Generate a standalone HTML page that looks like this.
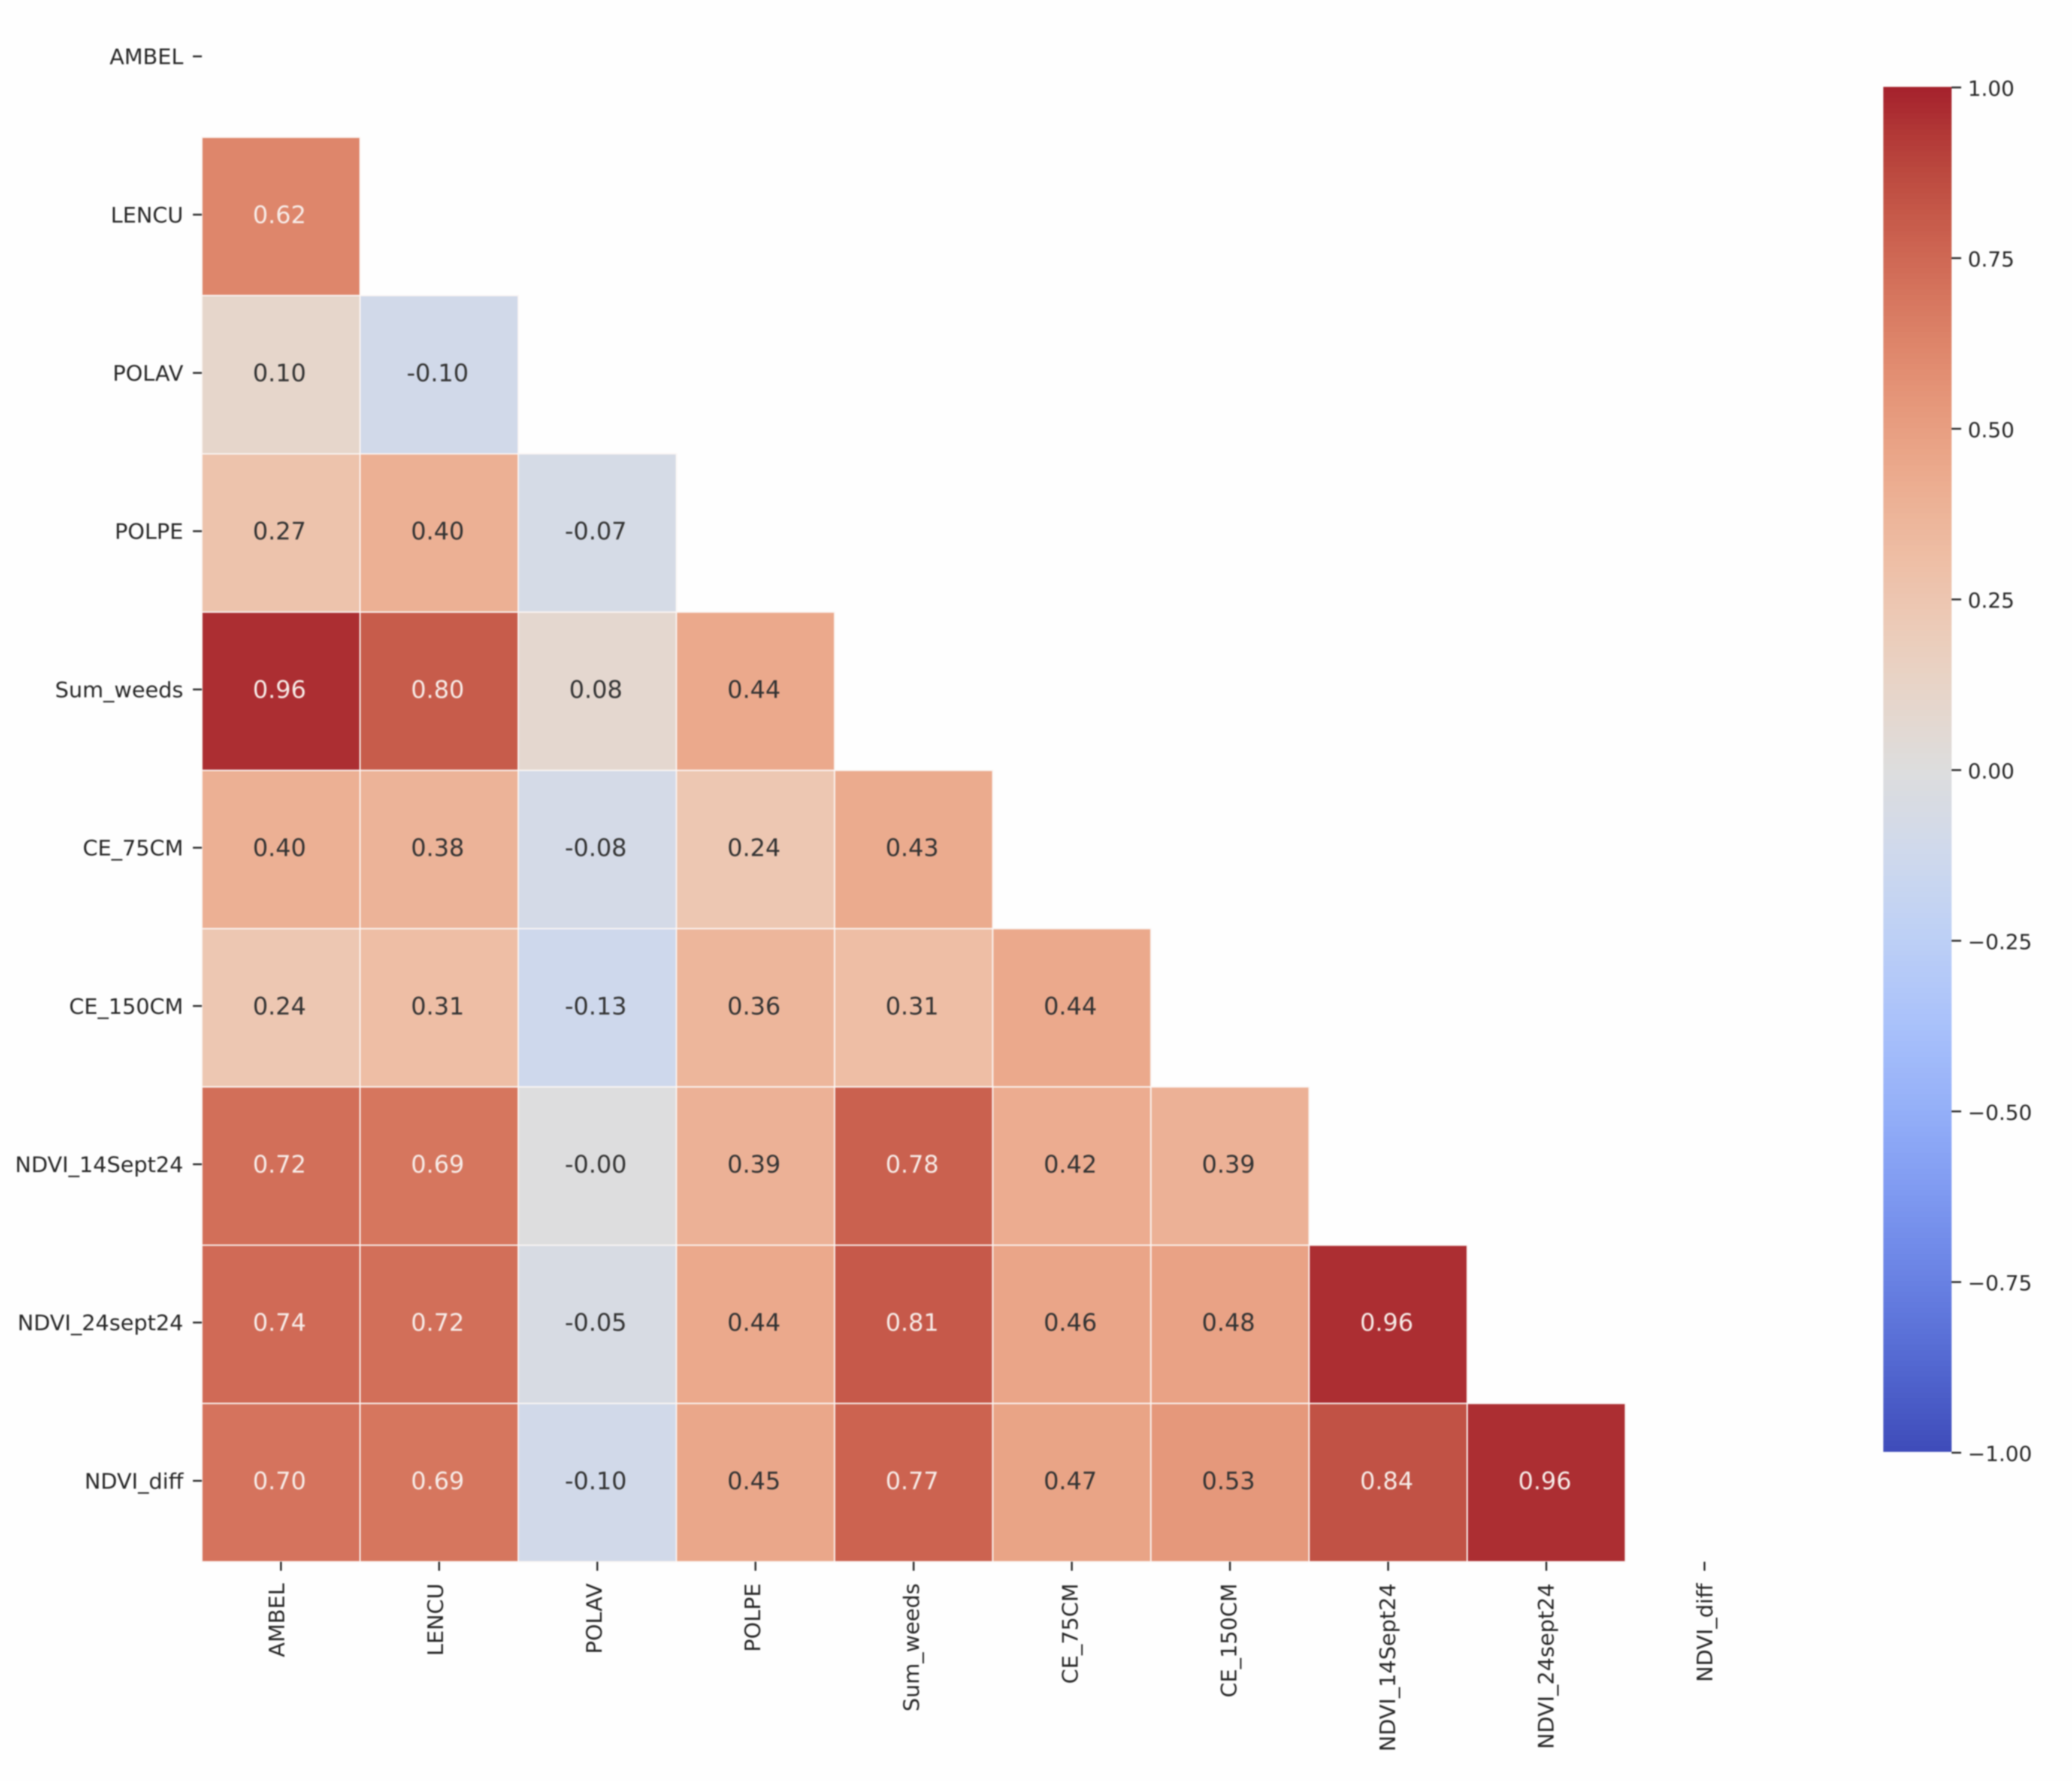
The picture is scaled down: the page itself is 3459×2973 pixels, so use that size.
<!DOCTYPE html>
<html lang="en">
<head>
<meta charset="utf-8">
<title>Correlation heatmap</title>
<style>
html,body{margin:0;padding:0;background:#fefefe;}
#chart{display:block;width:3459px;height:2973px;filter:blur(1.1px);}
text{font-family:"DejaVu Sans","Liberation Sans",sans-serif;}
</style>
</head>
<body>
<svg id="chart" xmlns="http://www.w3.org/2000/svg" width="3459" height="2973" viewBox="0 0 3459 2973">
<rect x="0" y="0" width="3459" height="2973" fill="#fefefe"></rect>
</svg>
<script>
const categories = ["AMBEL","LENCU","POLAV","POLPE","Sum_weeds","CE_75CM","CE_150CM","NDVI_14Sept24","NDVI_24sept24","NDVI_diff"];
const rowAMBEL = [];
const rowLENCU = [0.62];
const rowPOLAV = [0.10,-0.10];
const rowPOLPE = [0.27,0.40,-0.07];
const rowSumWeeds = [0.96,0.80,0.08,0.44];
const rowCE75 = [0.40,0.38,-0.08,0.24,0.43];
const rowCE150 = [0.24,0.31,-0.13,0.36,0.31,0.44];
const rowNDVI14 = [0.72,0.69,-0.004,0.39,0.78,0.42,0.39];
const rowNDVI24 = [0.74,0.72,-0.05,0.44,0.81,0.46,0.48,0.96];
const rowNDVIdiff = [0.70,0.69,-0.10,0.45,0.77,0.47,0.53,0.84,0.96];
const matrixRows = [rowAMBEL,rowLENCU,rowPOLAV,rowPOLPE,rowSumWeeds,rowCE75,rowCE150,rowNDVI14,rowNDVI24,rowNDVIdiff];
const colorbarTicks = [1,0.75,0.5,0.25,0,-0.25,-0.5,-0.75,-1];
const colorbarTickLabels = ["1.00","0.75","0.50","0.25","0.00","\u22120.25","\u22120.50","\u22120.75","\u22121.00"];
const coolwarmStops = [[59,76,192],[68,90,204],[77,104,215],[87,117,225],[98,130,234],[108,142,241],[119,154,247],[130,165,251],[141,176,254],[152,185,255],[163,194,255],[174,201,253],[184,208,249],[194,213,244],[204,217,238],[213,219,230],[221,221,221],[229,216,209],[236,211,197],[241,204,185],[245,196,173],[247,187,160],[247,177,148],[247,166,135],[244,154,123],[241,141,111],[236,127,99],[229,112,88],[222,96,77],[213,80,66],[203,62,56],[192,40,47],[180,4,38]];

const svg = document.getElementById('chart');
const NS = 'http://www.w3.org/2000/svg';
const plotLeft = 337, plotBottom = 2607, cellW = 264.05, cellH = 264.2;
const cbarLeft = 3144, cbarRight = 3258, cbarTop = 145, cbarBottom = 2423;
const tickTop = 146, tickBottom = 2425;
const ink = '#262626';
const annoInk = '#333333';

function xScale(col){ return plotLeft + col * cellW; }
function yScale(row){ return plotBottom - (categories.length - row) * cellH; }
function xLabelBaseline(col){ return 474.5 + col * 264.9; }
function cbarY(v){ return tickTop + (1 - v) / 2 * (tickBottom - tickTop); }

function toLinear(c){ c/=255; return c<=0.04045 ? c/12.92 : Math.pow((c+0.055)/1.055,2.4); }
function toCode(c){ return Math.round(255*(c<=0.0031308 ? 12.92*c : 1.055*Math.pow(c,1/2.4)-0.055)); }
function displayColor(r,g,b){
  const R=toLinear(r),G=toLinear(g),B=toLinear(b);
  const r2=0.8225*R+0.1774*G;
  const g2=0.0332*R+0.9669*G;
  const b2=0.0171*R+0.0724*G+0.9108*B;
  return 'rgb('+toCode(r2)+','+toCode(g2)+','+toCode(b2)+')';
}
function colorScale(v){
  const t=Math.max(0,Math.min(1,(v+1)/2))*(coolwarmStops.length-1);
  const i=Math.min(Math.floor(t),coolwarmStops.length-2);
  const f=t-i, a=coolwarmStops[i], b=coolwarmStops[i+1];
  return displayColor(a[0]+(b[0]-a[0])*f,a[1]+(b[1]-a[1])*f,a[2]+(b[2]-a[2])*f);
}
function make(tag,parent){
  const el=document.createElementNS(NS,tag);
  parent.appendChild(el);
  return el;
}
function set(el,props){ for(const k in props){ el.setAttribute(k,props[k]); } }

const cellsGroup = make('g',svg);


const annoGroup = make('g',svg);



matrixRows.forEach(function(row,r){
  row.forEach(function(v,c){
    const rect=make('rect',cellsGroup);
    
    
    set(rect,{x:xScale(c),y:yScale(r),width:cellW,height:cellH,fill:colorScale(v),stroke:'#fbf6f4','stroke-width':2.2});
    const label=make('text',annoGroup);
    
    
    set(label,{x:xScale(c)+cellW/2-2.5,y:yScale(r)+cellH/2+11,'text-anchor':'middle','font-size':40,fill:v>0.6?'#f7ece8':annoInk});
    label.textContent=v.toFixed(2);
  });
});

const yAxis = make('g',svg);


const xAxis = make('g',svg);



categories.forEach(function(name,i){
  const cy=yScale(i)+cellH/2-3;
  const yTick=make('line',yAxis);
  
  
  set(yTick,{x1:322,x2:337,y1:cy,y2:cy,stroke:ink,'stroke-width':3});
  const yLabel=make('text',yAxis);
  
  
  set(yLabel,{x:306,y:cy+13,'text-anchor':'end','font-size':36,fill:ink});
  yLabel.textContent=name;

  const cx=xScale(i)+cellW/2;
  const xTick=make('line',xAxis);
  
  
  set(xTick,{x1:cx,x2:cx,y1:plotBottom,y2:plotBottom+15,stroke:ink,'stroke-width':3});
  const xLabel=make('text',xAxis);
  
  
  const bx=xLabelBaseline(i), by=plotBottom+36;
  set(xLabel,{x:bx,y:by,'text-anchor':'end','font-size':36,fill:ink,transform:'rotate(-90 '+bx+' '+by+')'});
  xLabel.textContent=name;
});

const colorbar = make('g',svg);


const steps = 256;
for(let i=0;i<steps;i++){
  const top=cbarTop+(cbarBottom-cbarTop)*i/steps;
  const h=(cbarBottom-cbarTop)/steps;
  const slice=make('rect',colorbar);
  
  
  set(slice,{x:cbarLeft,y:top,width:cbarRight-cbarLeft,height:h+0.6,fill:colorScale(1-2*(i+0.5)/steps)});
}
colorbarTicks.forEach(function(v,i){
  const y=cbarY(v);
  const tick=make('line',colorbar);
  
  
  set(tick,{x1:cbarRight,x2:cbarRight+16,y1:y,y2:y,stroke:ink,'stroke-width':3});
  const label=make('text',colorbar);
  
  
  set(label,{x:3285,y:y+14,'font-size':35,fill:ink});
  label.textContent=colorbarTickLabels[i];
});
</script>
</body>
</html>
